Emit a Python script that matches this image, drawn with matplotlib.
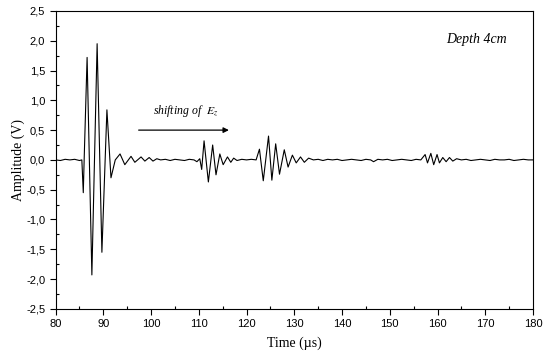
"""
Ultrasonic signal at 4 cm depth: amplitude vs time, with the shift of E_z marked.
"""

import matplotlib

matplotlib.use("Agg")
import matplotlib.pyplot as plt
from matplotlib.ticker import MultipleLocator, FuncFormatter

# waveform: time (us), amplitude (V)
time_us = [
    80.0, 81.0, 82.0, 83.0, 84.0, 85.0, 85.5,
    85.8, 86.0, 86.6, 87.6, 88.7, 89.7, 90.75, 91.6, 92.5,
    93.5, 94.5, 95.8, 96.6, 97.9, 98.7, 99.6, 100.4, 101.2,
    102.0, 103.0, 104.0, 105.0, 106.0, 107.0, 108.0, 109.0,
    109.6, 110.2, 110.6, 111.1, 112.0, 112.9, 113.6, 114.4, 115.1,
    116.0, 116.7, 117.3, 118.0, 119.0, 120.0, 121.0, 122.0,
    122.7, 123.5, 124.6, 125.3, 126.1, 126.9, 127.9, 128.7, 129.6,
    130.4, 131.3, 132.1, 133.0, 134.0, 135.0, 136.0, 137.0, 138.0,
    139.0, 140.0, 141.0, 142.0, 143.0, 144.0, 145.0, 146.0, 146.6,
    147.5, 148.5, 149.5, 150.5, 151.5, 152.5, 153.5, 154.5, 155.5,
    156.5, 157.4, 157.9, 158.6, 159.2, 159.9, 160.4, 161.1, 161.8,
    162.5, 163.2, 164.0, 165.0, 166.0, 167.0, 168.0, 169.0, 170.0,
    171.0, 172.0, 173.0, 174.0, 175.0, 176.0, 177.0, 178.0, 179.0, 180.0,
]
amplitude_v = [
    0.0, -0.01, 0.01, 0.0, 0.01, -0.01, 0.0,
    -0.55, 0.05, 1.72, -1.93, 1.95, -1.55, 0.84, -0.30, 0.0,
    0.10, -0.08, 0.06, -0.04, 0.05, -0.02, 0.04, -0.02, 0.02,
    0.0, 0.01, -0.01, 0.01, 0.0, -0.01, 0.01, 0.0,
    -0.03, 0.02, -0.16, 0.32, -0.37, 0.25, -0.25, 0.10, -0.08,
    0.05, -0.04, 0.03, -0.01, 0.01, 0.0, 0.01, 0.0,
    0.18, -0.35, 0.40, -0.34, 0.27, -0.24, 0.17, -0.12, 0.08,
    -0.05, 0.05, -0.04, 0.03, 0.0, 0.01, -0.01, 0.01, 0.0,
    0.01, -0.01, 0.0, 0.01, 0.0, -0.01, 0.01, 0.0, -0.03,
    0.01, 0.0, 0.01, -0.01, 0.0, 0.01, 0.0, -0.01, 0.01,
    0.0, 0.09, -0.05, 0.11, -0.08, 0.09, -0.05, 0.04, -0.03,
    0.04, -0.02, 0.02, 0.0, 0.01, -0.01, 0.0, 0.01, 0.0,
    -0.01, 0.01, 0.0, 0.0, 0.01, -0.01, 0.0, 0.01, 0.0, 0.0,
]

serif = "Liberation Serif"
sans = "Liberation Sans"

plt.rcParams["mathtext.fontset"] = "stix"

fig = plt.figure(figsize=(5.45, 3.53), dpi=100)
ax = fig.add_axes([0.102, 0.125, 0.876, 0.844])

ax.plot(time_us, amplitude_v, color="black", lw=0.8)

ax.set_xlim(80, 180)
ax.set_ylim(-2.5, 2.5)
ax.xaxis.set_major_locator(MultipleLocator(10))
ax.xaxis.set_minor_locator(MultipleLocator(5))
ax.yaxis.set_major_locator(MultipleLocator(0.5))
ax.yaxis.set_minor_locator(MultipleLocator(0.25))
ax.yaxis.set_major_formatter(FuncFormatter(lambda v, _: f"{v:.1f}".replace(".", ",")))
ax.tick_params(which="major", direction="out", length=4, width=0.8, labelsize=8)
ax.tick_params(which="minor", direction="in", length=2.5, width=0.8)
for lab in ax.get_xticklabels() + ax.get_yticklabels():
    lab.set_fontfamily(sans)
for spine in ax.spines.values():
    spine.set_linewidth(0.8)

ax.set_xlabel("Time (µs)", fontfamily=serif, fontsize=10, labelpad=5)
ax.set_ylabel("Amplitude (V)", fontfamily=serif, fontsize=10, labelpad=1)

ax.text(168.2, 2.02, "Depth 4cm", fontfamily=serif, style="italic",
        fontsize=10, ha="center", va="center")
ax.text(107.2, 0.82, r"shifting of  $E_z$", fontfamily=serif, style="italic",
        fontsize=8.5, ha="center", va="center")
ax.annotate("", xy=(116.3, 0.5), xytext=(97.4, 0.5),
            arrowprops=dict(arrowstyle="-|>", color="black", lw=0.9,
                            mutation_scale=8, shrinkA=0, shrinkB=0))

fig.savefig("out.png")
plt.close(fig)
